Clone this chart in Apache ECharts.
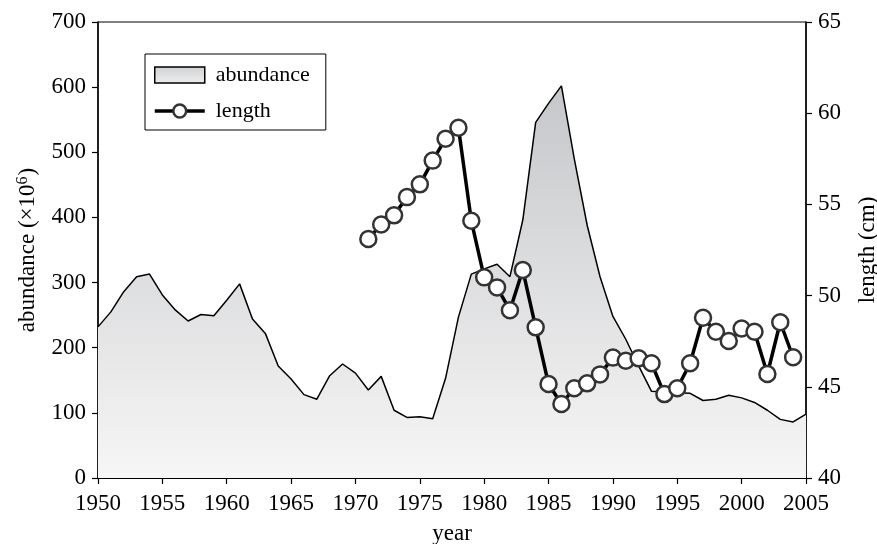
<!DOCTYPE html>
<html><head><meta charset="utf-8">
<script src="https://cdn.jsdelivr.net/npm/echarts@6/dist/echarts.min.js"></script>
<style>html,body{margin:0;padding:0;background:#fff}#c{width:877px;height:544px}</style>
</head><body><div id="c"></div>
<script>
var years = [1950,1951,1952,1953,1954,1955,1956,1957,1958,1959,1960,1961,1962,1963,1964,1965,1966,1967,1968,1969,1970,1971,1972,1973,1974,1975,1976,1977,1978,1979,1980,1981,1982,1983,1984,1985,1986,1987,1988,1989,1990,1991,1992,1993,1994,1995,1996,1997,1998,1999,2000,2001,2002,2003,2004,2005];
var abundance = [232,255,286,309,313,281,258,241,251,249,273,298,244,222,172,152,128,121,157,175,161,135,156,104,93,94,91,153,247,313,321,328,309,396,546,575,602,490,388,309,248,213,172,133,132,131,130,119,121,127,123,116,104,90,86,98];
var lengthYears = [1971,1972,1973,1974,1975,1976,1977,1978,1979,1980,1981,1982,1983,1984,1985,1986,1987,1988,1989,1990,1991,1992,1993,1994,1995,1996,1997,1998,1999,2000,2001,2002,2003,2004];
var lengthVals = [53.1,53.9,54.4,55.4,56.1,57.4,58.6,59.2,54.1,51.0,50.45,49.2,51.4,48.26,45.15,44.06,44.92,45.19,45.68,46.6,46.43,46.56,46.29,44.6,44.92,46.29,48.79,48.02,47.51,48.2,48.02,45.7,48.54,46.62];
var xTicks = [1950,1955,1960,1965,1970,1975,1980,1985,1990,1995,2000,2005];

var font = 'Liberation Serif';
var chart = echarts.init(document.getElementById('c'));
var grad = new echarts.graphic.LinearGradient(0,0,0,1,[{offset:0,color:'#c6c7ca'},{offset:1,color:'#f6f6f6'}]);
chart.setOption({
  animation:false,
  backgroundColor:'#fff',
  textStyle:{fontFamily:font,color:'#000'},
  grid:{left:98,right:71,top:22,bottom:66,outerBoundsMode:'none',containLabel:false,show:true,borderColor:'#000',borderWidth:1,backgroundColor:'transparent'},
  legend:{
    orient:'vertical',left:145,top:54,
    padding:[10,16,8,8],itemGap:14,itemWidth:50,itemHeight:16,
    borderColor:'#000',borderWidth:1,
    textStyle:{fontFamily:font,fontSize:22,color:'#000',padding:[0,0,0,6]},
    data:[
      {name:'abundance',icon:'rect',itemStyle:{color:new echarts.graphic.LinearGradient(0,0,0,1,[{offset:0,color:'#d0d1d3'},{offset:1,color:'#eeeeee'}]),borderColor:'#000',borderWidth:1.5}},
      {name:'length',lineStyle:{color:'#000',width:3.5},itemStyle:{color:'#fff',borderColor:'#333',borderWidth:2.5}}
    ]
  },
  xAxis:{
    type:'value',min:1950,max:2005,interval:5,
    name:'year',nameLocation:'middle',nameGap:44,
    nameTextStyle:{fontFamily:font,fontSize:23,color:'#000'},
    axisLine:{show:true,lineStyle:{color:'#000',width:2}},
    axisTick:{show:true,length:6,lineStyle:{color:'#000',width:1.2}},
    axisLabel:{fontFamily:font,fontSize:23,color:'#000',margin:14,formatter:function(v){return xTicks.indexOf(v)>=0?String(v):'';}},
    splitLine:{show:false}
  },
  yAxis:[
    {type:'value',min:0,max:700,interval:100,position:'left',
     name:'abundance (×10{sup|6})',nameLocation:'middle',nameGap:57,nameRotate:90,
     nameTextStyle:{fontFamily:font,fontSize:23,color:'#000',rich:{sup:{fontFamily:font,fontSize:16,color:'#000',verticalAlign:'top',padding:[0,1,10,0]}}},
     axisLine:{show:true,lineStyle:{color:'#000',width:1.5}},
     axisTick:{show:true,length:6,lineStyle:{color:'#000',width:1.2}},
     axisLabel:{fontFamily:font,fontSize:23,color:'#000',margin:12},
     splitLine:{show:false}},
    {type:'value',min:40,max:65,interval:5,position:'right',
     name:'length (cm)',nameLocation:'middle',nameGap:50,nameRotate:90,
     nameTextStyle:{fontFamily:font,fontSize:23,color:'#000'},
     axisLine:{show:true,lineStyle:{color:'#000',width:1.5}},
     axisTick:{show:true,length:6,lineStyle:{color:'#000',width:1.2}},
     axisLabel:{fontFamily:font,fontSize:23,color:'#000',margin:12},
     splitLine:{show:false}}
  ],
  series:[
    {name:'abundance',type:'line',yAxisIndex:0,showSymbol:false,symbol:'none',
     data:years.map(function(y,i){return [y,abundance[i]];}),
     lineStyle:{color:'#000',width:1.5},
     itemStyle:{color:'#000'},
     areaStyle:{color:grad,opacity:1},z:1},
    {name:'length',type:'line',yAxisIndex:1,symbol:'circle',symbolSize:16,
     data:lengthYears.map(function(y,i){return [y,lengthVals[i]];}),
     lineStyle:{color:'#000',width:3.5},
     itemStyle:{color:'#fff',borderColor:'#333',borderWidth:2.5},z:3}
  ]
});
</script></body></html>
